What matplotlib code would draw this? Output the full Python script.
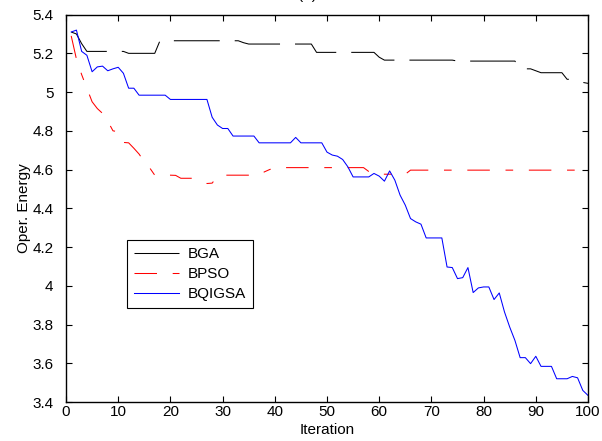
import numpy as np
import matplotlib
matplotlib.use('Agg')
import matplotlib.pyplot as plt
from matplotlib.ticker import FormatStrFormatter

# values
iters = np.arange(1, 101)

bga = [5.31, 5.30, 5.25, 5.21, 5.21, 5.21, 5.21, 5.21, 5.21, 5.21,
       5.21, 5.20, 5.20, 5.20, 5.20, 5.20, 5.20, 5.265, 5.265, 5.265,
       5.265, 5.265, 5.265, 5.265, 5.265, 5.265, 5.265, 5.265, 5.265, 5.265,
       5.265, 5.265, 5.265, 5.255, 5.248, 5.248, 5.248, 5.248, 5.248, 5.248,
       5.248, 5.248, 5.248, 5.248, 5.248, 5.248, 5.248, 5.205, 5.205, 5.205,
       5.205, 5.205, 5.205, 5.205, 5.205, 5.205, 5.205, 5.205, 5.205, 5.18,
       5.165, 5.165, 5.165, 5.165, 5.165, 5.165, 5.165, 5.165, 5.165, 5.165,
       5.165, 5.165, 5.165, 5.165, 5.16, 5.16, 5.16, 5.16, 5.16, 5.16,
       5.16, 5.16, 5.16, 5.16, 5.16, 5.16, 5.12, 5.12, 5.12, 5.11,
       5.10, 5.10, 5.10, 5.10, 5.10, 5.066, 5.066, 5.06, 5.05, 5.045]

bpso = [5.29, 5.17, 5.09, 5.02, 4.95, 4.915, 4.89, 4.85, 4.80, 4.795,
        4.74, 4.738, 4.71, 4.68, 4.64, 4.61, 4.571, 4.571, 4.571, 4.571,
        4.57, 4.555, 4.555, 4.555, 4.55, 4.54, 4.528, 4.53, 4.565, 4.571,
        4.571, 4.571, 4.571, 4.571, 4.571, 4.571, 4.571, 4.588, 4.60, 4.61,
        4.61, 4.61, 4.61, 4.61, 4.61, 4.61, 4.61, 4.61, 4.61, 4.61,
        4.61, 4.61, 4.61, 4.61, 4.61, 4.61, 4.61, 4.59, 4.576, 4.576,
        4.576, 4.576, 4.576, 4.576, 4.576, 4.597, 4.597, 4.597, 4.597, 4.597,
        4.597, 4.597, 4.597, 4.597, 4.597, 4.597, 4.597, 4.597, 4.597, 4.597,
        4.597, 4.597, 4.597, 4.597, 4.597, 4.597, 4.597, 4.597, 4.597, 4.597,
        4.597, 4.597, 4.597, 4.597, 4.597, 4.597, 4.597, 4.597, 4.597, 4.597]

bqigsa = [5.31, 5.32, 5.21, 5.19, 5.105, 5.13, 5.134, 5.11, 5.12, 5.128,
          5.097, 5.02, 5.02, 4.984, 4.984, 4.984, 4.984, 4.984, 4.984, 4.962,
          4.962, 4.962, 4.962, 4.962, 4.962, 4.962, 4.962, 4.87, 4.83, 4.812,
          4.812, 4.773, 4.773, 4.773, 4.773, 4.773, 4.738, 4.738, 4.738, 4.738,
          4.738, 4.738, 4.738, 4.766, 4.738, 4.738, 4.738, 4.738, 4.738, 4.69,
          4.675, 4.669, 4.652, 4.614, 4.562, 4.562, 4.562, 4.562, 4.58, 4.566,
          4.54, 4.593, 4.545, 4.468, 4.416, 4.347, 4.33, 4.318, 4.247, 4.247,
          4.247, 4.247, 4.097, 4.094, 4.037, 4.042, 4.094, 3.965, 3.989, 3.994,
          3.994, 3.929, 3.963, 3.865, 3.787, 3.718, 3.629, 3.629, 3.598, 3.636,
          3.584, 3.584, 3.584, 3.52, 3.52, 3.52, 3.532, 3.525, 3.46, 3.434]

labels = ['BGA', 'BPSO', 'BQIGSA']
xticks = np.arange(0, 101, 10)
yticks = np.arange(3.4, 5.41, 0.2)

plt.rcParams['font.family'] = ['Liberation Sans', 'DejaVu Sans']
plt.rcParams['font.size'] = 11
plt.rcParams['lines.scale_dashes'] = False

fig = plt.figure(figsize=(6.02, 4.41), dpi=100)
ax = fig.add_axes([66 / 602, 1 - 402 / 441, (588 - 66) / 602, (402 - 14.6) / 441])

ax.plot(iters, bga, color='k', lw=0.75, dashes=(33, 10.8), label=labels[0])
ax.plot(iters, bpso, color='#ff0000', lw=0.75, dashes=(16.2, 11.3, 5.5, 11.3), label=labels[1])
ax.plot(iters, bqigsa, color='#0000ff', lw=0.75, label=labels[2])

ax.set_xlim(0, 100)
ax.set_ylim(3.4, 5.4)
ax.set_xticks(xticks)
ax.set_yticks(yticks)
ax.yaxis.set_major_formatter(FormatStrFormatter('%g'))
ax.tick_params(direction='in', length=4.3, width=0.8, top=True, right=True, labelsize=11)
ax.tick_params(axis='x', pad=2)
ax.tick_params(axis='y', pad=9)
for s in ax.spines.values():
    s.set_linewidth(1.0)

ax.set_xlabel('Iteration', labelpad=3)
ax.set_ylabel('Oper. Energy', labelpad=1)

leg = ax.legend(loc='upper left', bbox_to_anchor=(0.117, 0.418), borderaxespad=0,
                fancybox=False, framealpha=1, edgecolor='k', handlelength=2.95,
                labelspacing=0.4, borderpad=0.45, handletextpad=0.6)
leg.get_frame().set_linewidth(0.8)

fig.text(307 / 602, 1 + 1 / 441, '(a)', ha='center', va='baseline', fontsize=11)

fig.savefig('out.png', dpi=100)
